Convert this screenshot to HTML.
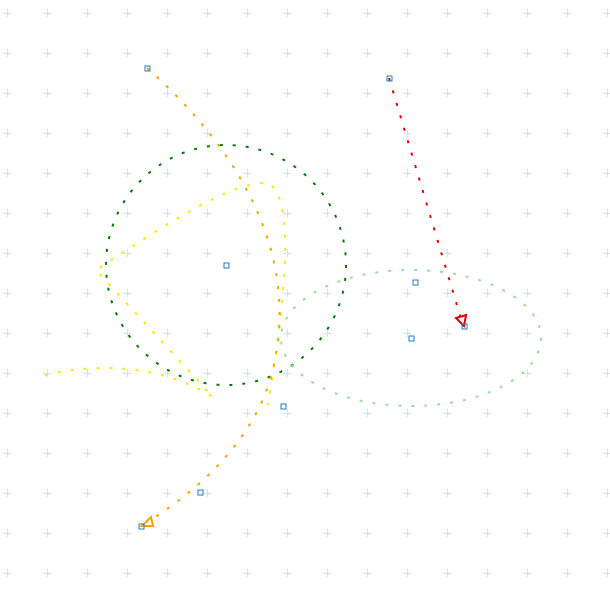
<!DOCTYPE html>
<html><head><meta charset="utf-8"><style>
html,body{margin:0;padding:0;background:#fff;width:610px;height:604px;overflow:hidden}
svg{display:block}
</style></head><body>
<svg id="c" width="610" height="604" viewBox="0 0 610 604" xmlns="http://www.w3.org/2000/svg">
<g id="grid"></g>
<ellipse cx="226" cy="265" rx="120" ry="120" fill="none" stroke="#007a00" stroke-width="2" stroke-dasharray="3,10"/>
<ellipse cx="411" cy="338" rx="130" ry="68" fill="none" stroke="#98e098" stroke-width="2" stroke-dasharray="3,10"/>
<path d="M45,375 C110,360 170,370 213,397 L96,270 C150,235 230,180 268,183 C300,200 280,330 268,405" fill="none" stroke="#f5ec00" stroke-width="2" stroke-dasharray="3,10"/>
<path d="M147,68 C240,150 305,260 270,380 C252,440 200,490 147,522" fill="none" stroke="#f5a300" stroke-width="2" stroke-dasharray="3,10"/>
<polygon points="142,526 151,517 153,526" fill="none" stroke="#f5a300" stroke-width="2"/>
<line x1="389" y1="78" x2="462" y2="322" stroke="#e00000" stroke-width="2" stroke-dasharray="3,10"/>
<polygon points="464,326 456,318 466,315" fill="none" stroke="#e00000" stroke-width="2"/>
<g id="pts"></g>
</svg>
<script>
const gridXs=[7,47,87,127,167,207,247,287,327,367,407,447,487,527,567,607];
const gridYs=[13,53,93,133,173,213,253,293,333,373,413,453,493,533,573];
const pointXs=[147,389,226,415,411,464,283,200,141];
const pointYs=[68,78,265,282,338,326,406,492,526];
const NS='http://www.w3.org/2000/svg';
const g=document.getElementById('grid');
for(const x of gridXs)for(const y of gridYs){
  const p=document.createElementNS(NS,'path');
  p.setAttribute('d',`M${x-4},${y+0.5}h8M${x+0.5},${y-4}v8`);
  p.setAttribute('stroke','#cfe2f6');p.setAttribute('stroke-width','1');
  
  
  g.appendChild(p);
}
const pg=document.getElementById('pts');
pointXs.forEach((x,i)=>{
  const r=document.createElementNS(NS,'rect');
  r.setAttribute('x',x-2);r.setAttribute('y',pointYs[i]-2);
  r.setAttribute('width',5);r.setAttribute('height',5);
  r.setAttribute('fill','none');r.setAttribute('stroke','#1f7fbf');r.setAttribute('stroke-width','1');
  
  
  pg.appendChild(r);
});
</script>
</body></html>
